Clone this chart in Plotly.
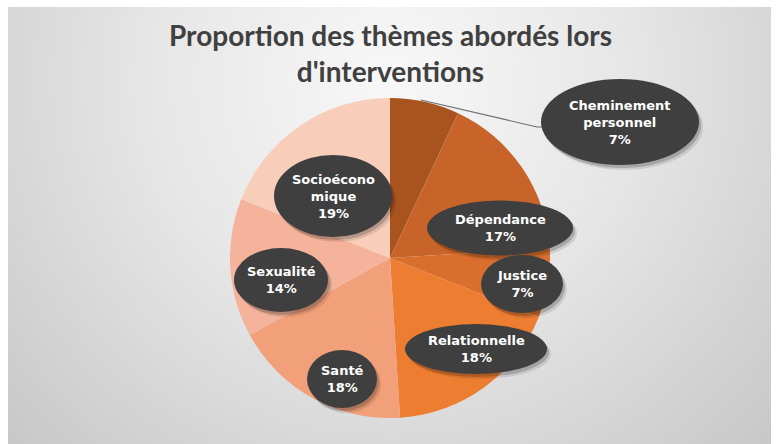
import base64
import plotly.graph_objects as go

# Themes, share of interventions (%), slice colours
themes = ["Cheminement personnel", "Dépendance", "Justice", "Relationnelle",
          "Santé", "Sexualité", "Socioéconomique"]
label_lines = ["Cheminement<br>personnel", "Dépendance", "Justice", "Relationnelle",
               "Santé", "Sexualité", "Socioécono<br>mique"]
shares = [7, 17, 7, 18, 18, 14, 19]
colors = ["#A9541F", "#C8632A", "#DA6F2D", "#ED7D31", "#F1A07A", "#F4B39A", "#F8CDBA"]

W, H = 777, 444

# Data-label bubbles: centre x, centre y, width, height (pixels)
bubbles = [
    (620, 122, 158, 86),
    (500, 228, 146, 55),
    (522, 284, 82, 58),
    (476, 349, 142, 50),
    (342, 379, 70, 58),
    (281, 280, 94, 64),
    (333, 196, 118, 82),
]

# Soft radial grey background for the chart area
svg = f"""<svg xmlns='http://www.w3.org/2000/svg' width='{W}' height='{H}'>
<defs><radialGradient id='g' cx='390' cy='80' r='540' gradientUnits='userSpaceOnUse'>
<stop offset='0' stop-color='#F8F8F8'/>
<stop offset='0.45' stop-color='#E6E6E6'/>
<stop offset='1' stop-color='#C6C6C6'/>
</radialGradient></defs>
<rect x='8' y='7' width='763' height='437' fill='url(#g)'/>
</svg>"""
bg_src = "data:image/svg+xml;base64," + base64.b64encode(svg.encode()).decode()

fig = go.Figure()

fig.add_trace(go.Pie(
    labels=themes,
    values=shares,
    sort=False,
    direction="clockwise",
    rotation=0,
    marker=dict(colors=colors, line=dict(width=0)),
    textinfo="none",
    hoverinfo="label+percent",
    showlegend=False,
    domain=dict(x=[230 / W, 550 / W], y=[1 - 418 / H, 1 - 98 / H]),
))

shapes = []
# leader line for the first slice
shapes.append(dict(type="path", xref="x", yref="y",
                   path="M 421 100 L 537 127 L 542 127",
                   line=dict(color="#6E6E6E", width=1.2), layer="above"))
for (cx, cy, w, h) in bubbles:
    for dx, dy, a in [(4, 5, 0.10), (2, 3, 0.18)]:
        shapes.append(dict(type="circle", xref="x", yref="y",
                           x0=cx - w / 2 + dx, x1=cx + w / 2 + dx,
                           y0=cy - h / 2 + dy, y1=cy + h / 2 + dy,
                           fillcolor=f"rgba(0,0,0,{a})", line=dict(width=0),
                           layer="above"))
    shapes.append(dict(type="circle", xref="x", yref="y",
                       x0=cx - w / 2, x1=cx + w / 2, y0=cy - h / 2, y1=cy + h / 2,
                       fillcolor="#3F3F3F", line=dict(width=0), layer="above"))

annotations = []
for text, v, (cx, cy, w, h) in zip(label_lines, shares, bubbles):
    annotations.append(dict(x=cx, y=cy, xref="x", yref="y", showarrow=False,
                            text=f"<b>{text}<br>{v}%</b>",
                            font=dict(family="DejaVu Sans", size=13, color="white"),
                            align="center"))

annotations.append(dict(x=390, y=53, xref="x", yref="y", showarrow=False,
                        text="<b>Proportion des thèmes abordés lors<br>d'interventions</b>",
                        font=dict(family="Lato", size=28, color="#404040"),
                        align="center"))

fig.update_layout(
    width=W, height=H,
    margin=dict(l=0, r=0, t=0, b=0),
    paper_bgcolor="white",
    plot_bgcolor="rgba(0,0,0,0)",
    xaxis=dict(range=[0, W], visible=False, fixedrange=True),
    yaxis=dict(range=[H, 0], visible=False, fixedrange=True),
    images=[dict(source=bg_src, xref="paper", yref="paper", x=0, y=1,
                 sizex=1, sizey=1, xanchor="left", yanchor="top",
                 sizing="stretch", layer="below")],
    shapes=shapes,
    annotations=annotations,
)

fig.write_html("out.html")
